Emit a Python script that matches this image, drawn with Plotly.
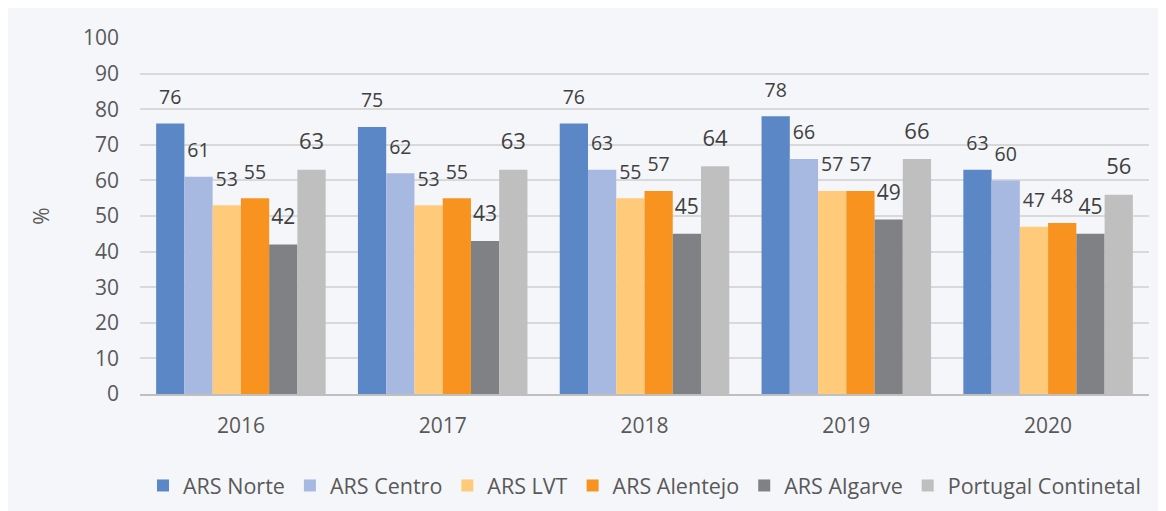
import plotly.graph_objects as go

years = ["2016", "2017", "2018", "2019", "2020"]
series_names = ["ARS Norte", "ARS Centro", "ARS LVT", "ARS Alentejo", "ARS Algarve", "Portugal Continetal"]
norte = [76, 75, 76, 78, 63]
centro = [61, 62, 63, 66, 60]
lvt = [53, 53, 55, 57, 47]
alentejo = [55, 55, 57, 57, 48]
algarve = [42, 43, 45, 49, 45]
portugal = [63, 63, 64, 66, 56]

values = [norte, centro, lvt, alentejo, algarve, portugal]
colors = ["#5B87C6", "#A7B9E1", "#FFCA7A", "#F7931E", "#808184", "#BFBFBF"]
label_sizes = [19.5, 19.5, 19.5, 19.5, 21, 22]

fig = go.Figure()
for i, (name, vals, col) in enumerate(zip(series_names, values, colors)):
    fig.add_trace(go.Bar(
        name=name, x=years, y=vals, marker=dict(color=col, line=dict(width=0)),
        offsetgroup=str(i),
    ))
for i, (name, vals, fs) in enumerate(zip(series_names, values, label_sizes)):
    fig.add_trace(go.Scatter(
        x=years, y=vals, mode="markers+text", text=[str(v) for v in vals],
        textposition="top center", offsetgroup=str(i), showlegend=False,
        hoverinfo="skip", cliponaxis=False,
        marker=dict(size=22, color="rgba(0,0,0,0)"),
        textfont=dict(family="Open Sans", size=fs, color="#404040"),
    ))

bg = "#F5F6FA"
fig.update_layout(
    width=1166, height=511,
    margin=dict(l=132, r=25, t=30, b=125),
    paper_bgcolor=bg, plot_bgcolor=bg,
    barmode="group", bargap=0.16, bargroupgap=0,
    scattermode="group", scattergap=0.16,
    font=dict(family="Open Sans", color="#595959", size=21),
    showlegend=True,
    legend=dict(orientation="h", x=0.5, xanchor="center", y=-0.257, yanchor="middle",
                font=dict(size=21.5, color="#595959"), itemwidth=30, traceorder="normal",
                bgcolor="rgba(0,0,0,0)"),
    xaxis=dict(showgrid=False, showline=True, linecolor="#BFBFBF", linewidth=2,
               ticks="", tickfont=dict(size=21, color="#595959"), ticklabelstandoff=12),
    yaxis=dict(range=[0, 100], dtick=10, showgrid=True, gridcolor="#D9D9D9", gridwidth=2,
               zeroline=False, showline=False, ticks="", ticklabelstandoff=20,
               tickfont=dict(size=21, color="#595959"),
               title=dict(text="%", font=dict(size=21, color="#595959"), standoff=27)),
)

fig.write_html("out.html")
